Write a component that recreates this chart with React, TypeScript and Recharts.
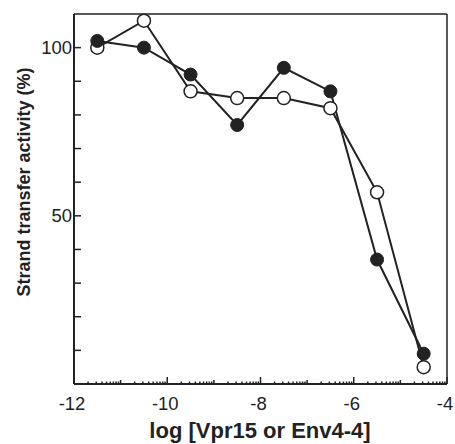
import { LineChart, Line, XAxis, YAxis, ReferenceLine } from "recharts";

const logConc = [-11.5, -10.5, -9.5, -8.5, -7.5, -6.5, -5.5, -4.5];
const filledActivity = [102, 100, 92, 77, 94, 87, 37, 9];
const openActivity = [100, 108, 87, 85, 85, 82, 57, 5];

const yTicks = [10, 20, 30, 40, 50, 60, 70, 80, 90, 100];
const yLabelTicks = [50, 100];
const xDecades = [-12, -11, -10, -9, -8, -7, -6, -5];

const ink = "#222";
const font = "'Liberation Sans', Arial, sans-serif";

const data = logConc.map((x, i) => ({
  x,
  filled: filledActivity[i],
  open: openActivity[i],
}));

// log-style minor ticks inside every unit, like the original axis
const xTicks: number[] = [];
xDecades.forEach((n) => {
  xTicks.push(n);
  for (let k = 2; k <= 9; k++) xTicks.push(n + Math.log10(k));
});
xTicks.push(-4);

function XTick(props: any) {
  const { x, y, payload } = props;
  const v = payload.value as number;
  const r = Math.round(v);
  const isInt = Math.abs(v - r) < 1e-6;
  const isMajor = isInt && r % 2 === 0;
  const len = isMajor ? 7 : isInt ? 4 : 2.5;
  return (
    <g>
      <line x1={x} x2={x} y1={y} y2={y - len} stroke={ink} strokeWidth={1.5} />
      {isMajor && (
        <text x={x - 2} y={y + 26} textAnchor="middle" fontSize={18.5} fill={ink} fontFamily={font}>
          {r}
        </text>
      )}
    </g>
  );
}

function YTick(props: any) {
  const { x, y, payload } = props;
  const v = payload.value as number;
  return (
    <g>
      <line x1={x} x2={x + 7} y1={y} y2={y} stroke={ink} strokeWidth={1.5} />
      {yLabelTicks.includes(v) && (
        <text x={x - 2} y={y} dy="0.36em" textAnchor="end" fontSize={18.5} fill={ink} fontFamily={font}>
          {v}
        </text>
      )}
    </g>
  );
}

export default function App() {
  return (
    <div style={{ position: "absolute", left: 0, top: 0, width: 455, height: 444, background: "#fff" }}>
      <LineChart width={455} height={444} data={data} margin={{ top: 14, right: 8, bottom: 0, left: 0 }}>
        <XAxis
          type="number"
          dataKey="x"
          domain={[-12, -4]}
          ticks={xTicks}
          interval={0}
          tickSize={0}
          tickMargin={0}
          tickLine={false}
          tick={<XTick />}
          axisLine={{ stroke: ink, strokeWidth: 2 }}
          height={60}
          label={{
            content: () => (
              <text x={260} y={438} textAnchor="middle" fontSize={22} fontWeight="bold" fill={ink} fontFamily={font}>
                log [Vpr15 or Env4-4]
              </text>
            ),
          }}
        />
        <YAxis
          type="number"
          domain={[0, 110]}
          ticks={yTicks}
          interval={0}
          tickSize={0}
          tickMargin={0}
          tickLine={false}
          tick={<YTick />}
          axisLine={{ stroke: ink, strokeWidth: 2 }}
          width={74}
          label={{
            content: () => (
              <text
                x={24}
                y={182}
                transform="rotate(-90 24 182)"
                textAnchor="middle"
                dominantBaseline="central"
                fontSize={18}
                fontWeight="bold"
                fill={ink}
                fontFamily={font}
              >
                Strand transfer activity (%)
              </text>
            ),
          }}
        />
        <ReferenceLine y={110} stroke={ink} strokeWidth={1.5} />
        <ReferenceLine x={-4} stroke={ink} strokeWidth={1.5} />
        <Line
          type="linear"
          dataKey="open"
          stroke={ink}
          strokeWidth={2}
          dot={{ r: 6.5, fill: "#fff", stroke: ink, strokeWidth: 1.5 }}
          activeDot={false}
          isAnimationActive={false}
        />
        <Line
          type="linear"
          dataKey="filled"
          stroke={ink}
          strokeWidth={2}
          dot={{ r: 6.5, fill: ink, stroke: ink, strokeWidth: 1 }}
          activeDot={false}
          isAnimationActive={false}
        />
      </LineChart>
    </div>
  );
}
